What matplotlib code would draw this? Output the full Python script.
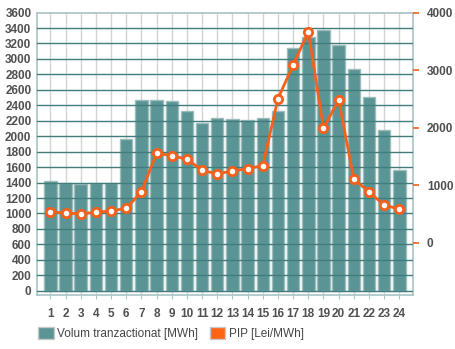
import matplotlib.pyplot as plt
from matplotlib.patches import Patch

ore = list(range(1, 25))
volum = [1414, 1393, 1376, 1398, 1393, 1965, 2466, 2475, 2458, 2328, 2176, 2237,
         2228, 2206, 2237, 2328, 3145, 3283, 3379, 3180, 2873, 2510, 2085, 1566]
pip = [539, 511, 504, 528, 551, 598, 882, 1555, 1513, 1450, 1259, 1195,
       1247, 1287, 1339, 2504, 3090, 3670, 1990, 2482, 1103, 887, 650, 586]

stanga_ticks = list(range(0, 3601, 200))
dreapta_ticks = [0, 1000, 2000, 3000, 4000]

teal = "#5b9494"
portocaliu = "#f5601a"
spine_col = "#a9c4c4"
txt = "#505050"

plt.rcParams["font.family"] = ["Liberation Sans", "DejaVu Sans"]

fig = plt.figure(figsize=(4.56, 3.49), dpi=100)
ax = fig.add_axes([0.0811, 0.1547, 0.8246, 0.8093])

# grila verticala, in spatele barelor
for h in ore:
    ax.axvline(h, color="#d4d4d4", lw=1, zorder=0)

ax.bar(ore, volum, width=0.82, color=teal, edgecolor="#9dbdbd", lw=1, zorder=2)

# grila orizontala peste bare
for v in stanga_ticks[:-1]:
    ax.axhline(v, color="#427c7c", lw=1, zorder=3)

ax.set_xlim(0.12, 24.9)
ax.set_ylim(-55, 3600)
ax.set_yticks(stanga_ticks)
ax.set_xticks(ore)
ax.tick_params(axis="y", length=0, pad=4, labelsize=8.5, labelcolor=txt)
ax.tick_params(axis="x", length=3, color=spine_col, pad=6, labelsize=8.5, labelcolor=txt)
for lab in ax.get_yticklabels() + ax.get_xticklabels():
    lab.set_fontweight("bold")
for s in ax.spines.values():
    s.set_color(spine_col)
    s.set_linewidth(1.2)

ax2 = ax.twinx()
ax2.plot(ore, pip, color=portocaliu, lw=2, marker="o", ms=6, mfc="white",
         mec=portocaliu, mew=2, zorder=5)
ax2.set_ylim(-910, 4000)
ax2.set_yticks(dreapta_ticks)
ax2.tick_params(axis="y", length=4, width=1.2, color=portocaliu, pad=6,
                labelsize=8.5, labelcolor=txt)
for lab in ax2.get_yticklabels():
    lab.set_fontweight("bold")
for s in ax2.spines.values():
    s.set_visible(False)

handles = [Patch(facecolor=teal, edgecolor="#c8c8c8", lw=1),
           Patch(facecolor="#ff6414", edgecolor="#c8c8c8", lw=1)]
fig.legend(handles, ["Volum tranzactionat [MWh]", "PIP [Lei/MWh]"],
           loc="center", bbox_to_anchor=(0.375, 0.045), ncol=2, frameon=False,
           fontsize=8.5, labelcolor="#444444", handlelength=1.3, handleheight=1.3,
           handletextpad=0.3, columnspacing=1.0)

fig.savefig("out.png", dpi=100)
